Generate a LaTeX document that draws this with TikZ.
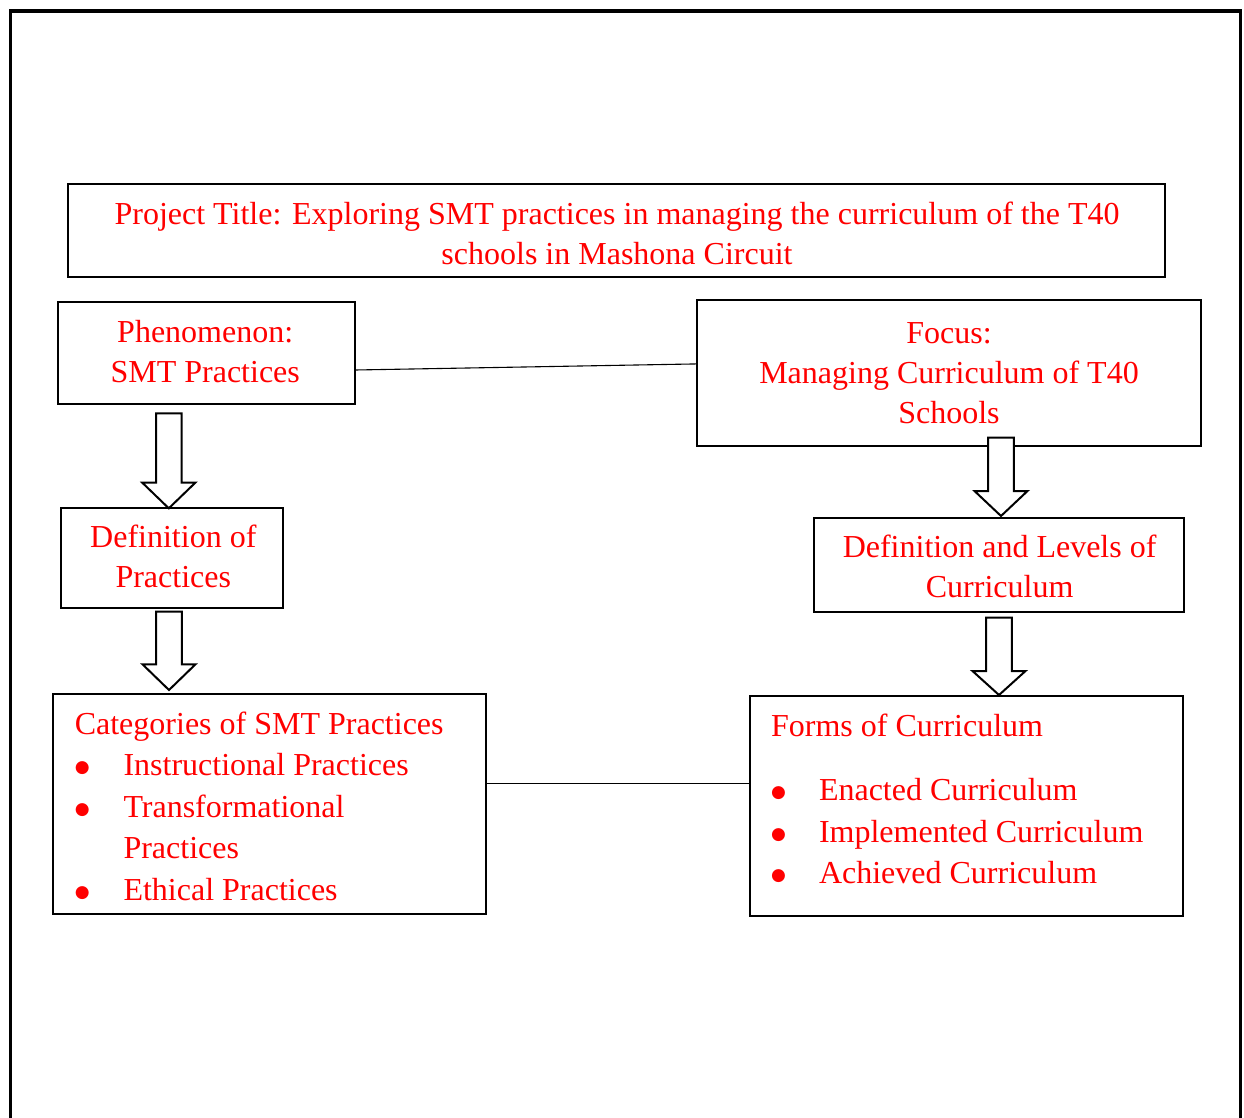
\documentclass[tikz,border=0pt]{standalone}
\usepackage{fontspec}
\setmainfont{Liberation Serif}
\newfontfamily\bulfont{DejaVu Sans}
\definecolor{txtred}{RGB}{255,0,0}
\newcommand\blockarrow[4]{%
  \filldraw[blockarr] (#1-12.8,#2) -- (#1+12.8,#2) -- (#1+12.8,#3) -- (#1+26.5,#3)
    -- (#1,#4) -- (#1-26.5,#3) -- (#1-12.8,#3) -- cycle;}
\newcommand\bul[1]{\makebox[#1][l]{\makebox[15pt]{\raisebox{3pt}{\bulfont\fontsize{17}{17}\selectfont ●}}}}
\begin{document}
\begin{tikzpicture}[x=1pt,y=-1pt,
  box/.style={draw=black,line width=2pt,inner sep=0pt,outer sep=0pt},
  txt/.style={text=txtred,inner sep=0pt,outer sep=0pt,anchor=base,font=\fontsize{32}{40}\selectfont},
  listtxt/.style={text=txtred,inner sep=0pt,outer sep=0pt,anchor=base west,font=\fontsize{32}{41.5}\selectfont},
  conn/.style={draw=black,line width=1.1pt},
  blockarr/.style={draw=black,fill=white,line width=2pt,line join=miter},
  frame/.style={draw=black,line width=3.5pt}]
\fill[white] (0,0) rectangle (1244,1117);
\useasboundingbox (0,0) rectangle (1244,1117);
% outer frame
\draw[frame] (10.5,1120) -- (10.5,11) -- (1240.5,11) -- (1240.5,1120);
% boxes
\node[box,minimum width=1097pt,minimum height=93pt] (title) at (616.5,230.5) {};
\node[box,minimum width=297pt,minimum height=102.6pt] (phen) at (206.3,353) {};
\node[box,minimum width=503.5pt,minimum height=145.7pt] (focus) at (949.2,372.9) {};
\node[box,minimum width=222pt,minimum height=99.4pt] (defp) at (172.3,558) {};
\node[box,minimum width=369.8pt,minimum height=94.3pt] (defl) at (998.7,565.2) {};
\node[box,minimum width=433pt,minimum height=220pt] (cat) at (269.9,804) {};
\node[box,minimum width=433.4pt,minimum height=220pt] (forms) at (966.3,806) {};
% texts
\node[txt] (titletxt) at (617,224) {\begin{tabular}[t]{@{}c@{}}Project Title: Exploring SMT practices in managing the curriculum of the T40\\schools in Mashona Circuit\end{tabular}};
\node[txt] (phentxt) at (205.2,342.5) {\begin{tabular}[t]{@{}c@{}}Phenomenon:\\SMT Practices\end{tabular}};
\node[txt] (focustxt) at (949,343.2) {\begin{tabular}[t]{@{}c@{}}Focus:\\Managing Curriculum of T40\\Schools\end{tabular}};
\node[txt] (defptxt) at (173.3,547.8) {\begin{tabular}[t]{@{}c@{}}Definition of\\Practices\end{tabular}};
\node[txt] (defltxt) at (999.6,557.2) {\begin{tabular}[t]{@{}c@{}}Definition and Levels of\\Curriculum\end{tabular}};
\node[listtxt] (cattxt) at (74.8,734.3) {\begin{tabular}[t]{@{}l@{}}Categories of SMT Practices\\
\bul{48.7pt}Instructional Practices\\
\bul{48.7pt}Transformational\\
\hspace*{48.7pt}Practices\\
\bul{48.7pt}Ethical Practices\end{tabular}};
\node[listtxt] (formstxt) at (771.1,736.5) {\begin{tabular}[t]{@{}l@{}}Forms of Curriculum\\[22.6pt]
\bul{47.9pt}Enacted Curriculum\\
\bul{47.9pt}Implemented Curriculum\\
\bul{47.9pt}Achieved Curriculum\end{tabular}};
% connectors
\draw[conn] ([yshift=-17pt]phen.east) -- ([yshift=9pt]focus.west);
\draw[conn] ([yshift=20.7pt]cat.east) -- ([yshift=22.7pt]forms.west);
% block arrows
\blockarrow{168.8}{413.3}{482.7}{508.3}
\blockarrow{169}{611.7}{664.3}{690}
\blockarrow{1001}{437.7}{491}{516}
\blockarrow{999}{617.7}{671}{695}
\end{tikzpicture}
\end{document}
